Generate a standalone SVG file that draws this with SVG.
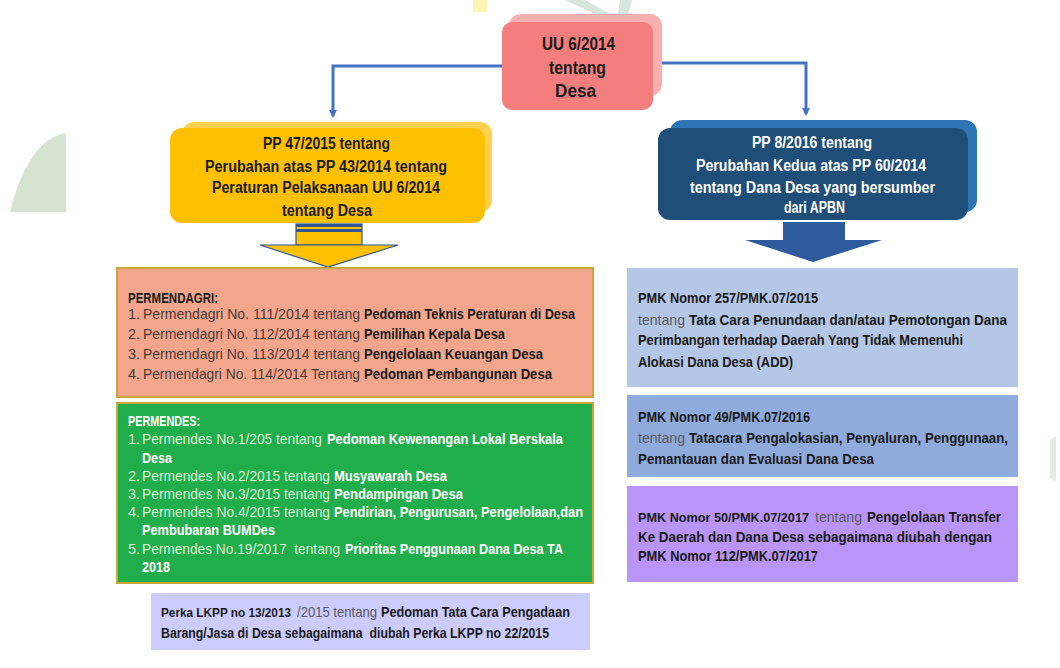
<svg xmlns="http://www.w3.org/2000/svg" width="1060" height="668" viewBox="0 0 1060 668">
<defs>
<style>
text{font-family:"Liberation Sans","DejaVu Sans",sans-serif;font-size:14.5px;}
.hd{font-weight:700;font-size:16px;fill:#1b1b1b;}
.hw{font-weight:700;font-size:16px;fill:#ffffff;}
.uu{font-weight:700;font-size:18px;fill:#1b1b1b;}
.dn{fill:#4a3a38;}
.db{fill:#1a1a1a;font-weight:700;}
.gn{fill:#dcefd6;}
.gb{fill:#ffffff;font-weight:700;}
.pn{fill:#5a5a62;}
.pb{fill:#1a1a1a;font-weight:700;}
.sm{font-size:13px;}
.conn{fill:none;stroke:#4472C4;stroke-width:3;}
.box{stroke:#C9A53A;stroke-width:2;}
</style>
<marker id="ah" markerWidth="8" markerHeight="8" refX="6" refY="4" orient="auto" markerUnits="userSpaceOnUse" viewBox="0 0 8 8">
<path d="M0,0 L8,4 L0,8 z" fill="#4472C4"/>
</marker>
</defs>
<rect width="1060" height="668" fill="#ffffff"/>
<g id="background">
<path d="M10,212 Q28,140 66,133 L66,212 Z" fill="#D5E3D0"/>
<rect x="473" y="0" width="14" height="12" fill="#FFF3B0"/>
<path d="M565,0 L585,0 L610,14 L595,14 Z" fill="#D6E6DC"/>
<path d="M620,0 L632,0 L628,14 L618,14 Z" fill="#D6E6DC"/>
<path d="M1050,440 L1056,436 L1056,482 L1050,478 Z" fill="#E3EDE0"/>
</g>
<g id="connectors">
<path class="conn" d="M502,66 L333,66 L333,116" marker-end="url(#ah)"/>
<path class="conn" d="M653,63 L806,63 L806,114" marker-end="url(#ah)"/>
<g id="arrow-yellow">
<rect x="296" y="224" width="66" height="21" fill="#FFC000" stroke="#2F5597" stroke-width="1.2"/>
<rect x="296" y="224" width="66" height="3" fill="#2F5597"/>
<rect x="296" y="229" width="66" height="3" fill="#2F5597"/>
<polygon points="260,245 398,245 328,267" fill="#FFC000" stroke="#2F5597" stroke-width="1.2"/>
</g>
<g id="arrow-navy">
<rect x="783" y="222" width="62" height="19" fill="#2E5B9B"/>
<polygon points="745,240 882,240 813,262" fill="#2E5B9B"/>
</g>
</g>
<g id="node-uu">
<rect x="509" y="14" width="153" height="82" rx="12" fill="#F8AFAF"/>
<rect x="502" y="22" width="151" height="88" rx="10" fill="#F47E7E"/>
<text class="uu" x="542" y="50" textLength="73" lengthAdjust="spacingAndGlyphs">UU 6/2014</text>
<text class="uu" x="549" y="74" textLength="57" lengthAdjust="spacingAndGlyphs">tentang</text>
<text class="uu" x="555" y="97" textLength="41" lengthAdjust="spacingAndGlyphs">Desa</text>
</g>
<g id="node-pp47">
<rect x="182" y="122" width="310" height="90" rx="12" fill="#FFD050"/>
<rect x="170" y="128" width="315" height="95" rx="12" fill="#FFC000"/>
<text class="hd" x="263" y="149" textLength="127" lengthAdjust="spacingAndGlyphs">PP 47/2015 tentang</text>
<text class="hd" x="205" y="172" textLength="242" lengthAdjust="spacingAndGlyphs">Perubahan atas PP 43/2014 tentang</text>
<text class="hd" x="212" y="193" textLength="228" lengthAdjust="spacingAndGlyphs">Peraturan Pelaksanaan UU 6/2014</text>
<text class="hd" x="282" y="216" textLength="90" lengthAdjust="spacingAndGlyphs">tentang Desa</text>
</g>
<g id="node-pp8">
<rect x="670" y="120" width="307" height="92" rx="12" fill="#2E75B6"/>
<rect x="658" y="128" width="310" height="92" rx="12" fill="#1F4E79"/>
<text class="hw" x="752" y="148" textLength="120" lengthAdjust="spacingAndGlyphs">PP 8/2016 tentang</text>
<text class="hw" x="696" y="171" textLength="230" lengthAdjust="spacingAndGlyphs">Perubahan Kedua atas PP 60/2014</text>
<text class="hw" x="690" y="193" textLength="245" lengthAdjust="spacingAndGlyphs">tentang Dana Desa yang bersumber</text>
<text class="hw" x="784" y="213" textLength="61" lengthAdjust="spacingAndGlyphs">dari APBN</text>
</g>
<g id="node-permendagri">
<rect class="box" x="117" y="268" width="476" height="129" fill="#F4A68C"/>
<text class="db" x="128" y="303" textLength="90" lengthAdjust="spacingAndGlyphs">PERMENDAGRI:</text>
<text class="dn" x="128" y="319">1.</text>
<text class="dn" x="143" y="319" textLength="217" lengthAdjust="spacingAndGlyphs">Permendagri No. 111/2014 tentang</text>
<text class="db" x="364" y="319" textLength="211" lengthAdjust="spacingAndGlyphs">Pedoman Teknis Peraturan di Desa</text>
<text class="dn" x="128" y="339">2.</text>
<text class="dn" x="143" y="339" textLength="217" lengthAdjust="spacingAndGlyphs">Permendagri No. 112/2014 tentang</text>
<text class="db" x="364" y="339" textLength="141" lengthAdjust="spacingAndGlyphs">Pemilihan Kepala Desa</text>
<text class="dn" x="128" y="359">3.</text>
<text class="dn" x="143" y="359" textLength="217" lengthAdjust="spacingAndGlyphs">Permendagri No. 113/2014 tentang</text>
<text class="db" x="364" y="359" textLength="179" lengthAdjust="spacingAndGlyphs">Pengelolaan Keuangan Desa</text>
<text class="dn" x="128" y="379">4.</text>
<text class="dn" x="143" y="379" textLength="217" lengthAdjust="spacingAndGlyphs">Permendagri No. 114/2014 Tentang</text>
<text class="db" x="364" y="379" textLength="188" lengthAdjust="spacingAndGlyphs">Pedoman Pembangunan Desa</text>
</g>
<g id="node-permendes">
<rect class="box" x="117" y="403" width="476" height="180" fill="#1FAE4B"/>
<text class="gb" x="128" y="426" textLength="72" lengthAdjust="spacingAndGlyphs">PERMENDES:</text>
<text class="gn" x="128" y="444">1.</text>
<text class="gn" x="142" y="444" textLength="180" lengthAdjust="spacingAndGlyphs">Permendes No.1/205 tentang</text>
<text class="gb" x="327" y="444" textLength="236" lengthAdjust="spacingAndGlyphs">Pedoman Kewenangan Lokal Berskala</text>
<text class="gb" x="142" y="463" textLength="30" lengthAdjust="spacingAndGlyphs">Desa</text>
<text class="gn" x="128" y="481">2.</text>
<text class="gn" x="142" y="481" textLength="188" lengthAdjust="spacingAndGlyphs">Permendes No.2/2015 tentang</text>
<text class="gb" x="334" y="481" textLength="113" lengthAdjust="spacingAndGlyphs">Musyawarah Desa</text>
<text class="gn" x="128" y="499">3.</text>
<text class="gn" x="142" y="499" textLength="188" lengthAdjust="spacingAndGlyphs">Permendes No.3/2015 tentang</text>
<text class="gb" x="334" y="499" textLength="129" lengthAdjust="spacingAndGlyphs">Pendampingan Desa</text>
<text class="gn" x="128" y="517">4.</text>
<text class="gn" x="142" y="517" textLength="188" lengthAdjust="spacingAndGlyphs">Permendes No.4/2015 tentang</text>
<text class="gb" x="334" y="517" textLength="249" lengthAdjust="spacingAndGlyphs">Pendirian, Pengurusan, Pengelolaan,dan</text>
<text class="gb" x="142" y="535" textLength="133" lengthAdjust="spacingAndGlyphs">Pembubaran BUMDes</text>
<text class="gn" x="128" y="554">5.</text>
<text class="gn" x="142" y="554" textLength="198" lengthAdjust="spacingAndGlyphs" xml:space="preserve">Permendes No.19/2017  tentang</text>
<text class="gb" x="345" y="554" textLength="218" lengthAdjust="spacingAndGlyphs">Prioritas Penggunaan Dana Desa TA</text>
<text class="gb" x="142" y="572" textLength="28" lengthAdjust="spacingAndGlyphs">2018</text>
</g>
<g id="node-perka">
<rect x="151" y="593" width="439" height="57" fill="#CCCCFF"/>
<text class="pb sm" x="161" y="617" textLength="130" lengthAdjust="spacingAndGlyphs">Perka LKPP no 13/2013</text>
<text class="pn" x="297" y="617" textLength="80" lengthAdjust="spacingAndGlyphs">/2015 tentang</text>
<text class="pb" x="381" y="617" textLength="189" lengthAdjust="spacingAndGlyphs">Pedoman Tata Cara Pengadaan</text>
<text class="pb" x="161" y="638" textLength="388" lengthAdjust="spacingAndGlyphs" xml:space="preserve">Barang/Jasa di Desa sebagaimana  diubah Perka LKPP no 22/2015</text>
</g>
<g id="node-pmk257">
<rect x="627" y="268" width="391" height="119" fill="#B4C7E7"/>
<text class="pb" x="638" y="303" textLength="180" lengthAdjust="spacingAndGlyphs">PMK Nomor 257/PMK.07/2015</text>
<text class="pn" x="638" y="325" textLength="47" lengthAdjust="spacingAndGlyphs">tentang</text>
<text class="pb" x="689" y="325" textLength="318" lengthAdjust="spacingAndGlyphs">Tata Cara Penundaan dan/atau Pemotongan Dana</text>
<text class="pb" x="638" y="345" textLength="325" lengthAdjust="spacingAndGlyphs">Perimbangan terhadap Daerah Yang Tidak Memenuhi</text>
<text class="pb" x="638" y="367" textLength="155" lengthAdjust="spacingAndGlyphs">Alokasi Dana Desa (ADD)</text>
</g>
<g id="node-pmk49">
<rect x="627" y="395" width="391" height="82" fill="#8FAADC"/>
<text class="pb" x="638" y="422" textLength="172" lengthAdjust="spacingAndGlyphs">PMK Nomor 49/PMK.07/2016</text>
<text class="pn" x="638" y="443" textLength="47" lengthAdjust="spacingAndGlyphs">tentang</text>
<text class="pb" x="689" y="443" textLength="319" lengthAdjust="spacingAndGlyphs">Tatacara Pengalokasian, Penyaluran, Penggunaan,</text>
<text class="pb" x="638" y="464" textLength="236" lengthAdjust="spacingAndGlyphs">Pemantauan dan Evaluasi Dana Desa</text>
</g>
<g id="node-pmk50">
<rect x="627" y="486" width="391" height="96" fill="#B895F7"/>
<text class="pb sm" x="638" y="522" textLength="171" lengthAdjust="spacingAndGlyphs">PMK Nomor 50/PMK.07/2017</text>
<text class="pn" x="815" y="522" textLength="47" lengthAdjust="spacingAndGlyphs">tentang</text>
<text class="pb" x="867" y="522" textLength="134" lengthAdjust="spacingAndGlyphs">Pengelolaan Transfer</text>
<text class="pb" x="638" y="542" textLength="354" lengthAdjust="spacingAndGlyphs">Ke Daerah dan Dana Desa sebagaimana diubah dengan</text>
<text class="pb" x="638" y="561" textLength="180" lengthAdjust="spacingAndGlyphs">PMK Nomor 112/PMK.07/2017</text>
</g>
</svg>
